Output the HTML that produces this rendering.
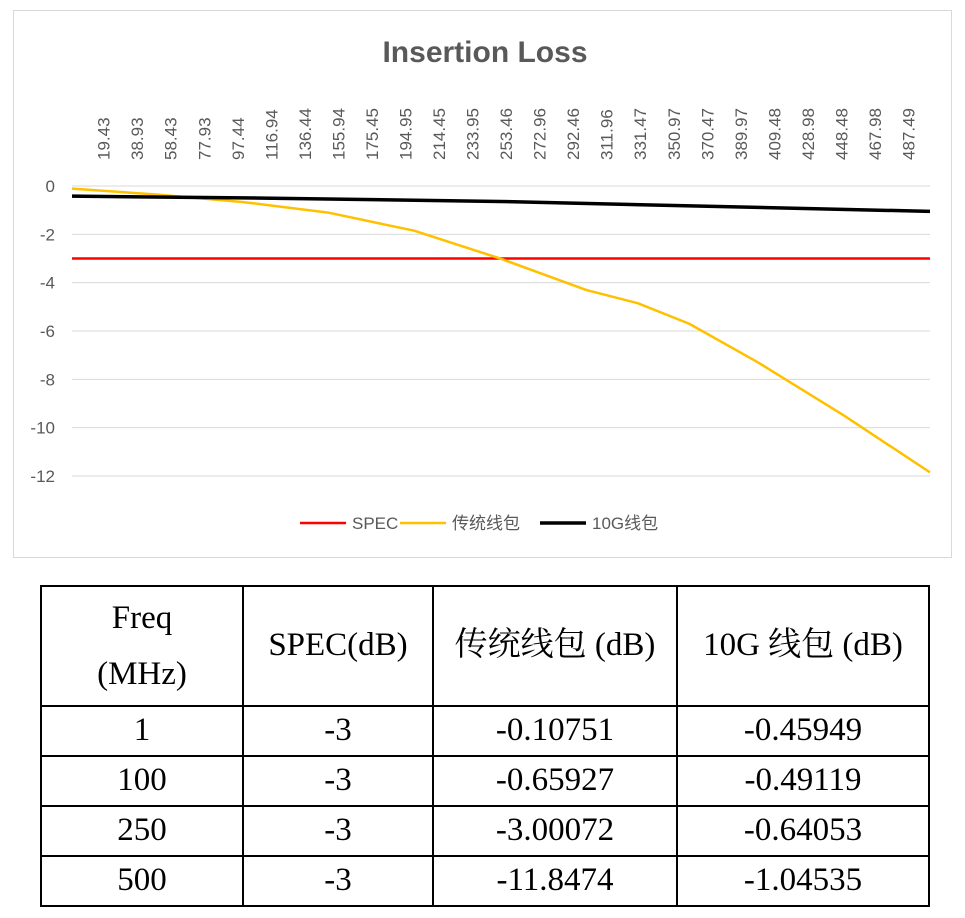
<!DOCTYPE html>
<html><head><meta charset="utf-8"><style>
body{margin:0;background:#fff;width:965px;height:918px;overflow:hidden;position:relative;font-family:"Liberation Sans","Noto Sans CJK SC",sans-serif}
#chart{position:absolute;left:13px;top:10px;width:939px;height:548px;border:1px solid #d9d9d9;box-sizing:border-box}
table{position:absolute;left:40px;top:585px;border-collapse:collapse;font-family:"Liberation Serif","Noto Serif CJK SC",serif;font-size:33px;color:#000}
td{border:2px solid #000;text-align:center;padding:0;line-height:1.2}
</style></head><body>
<div id="chart"></div>
<svg id="svg" width="965" height="570" style="position:absolute;left:0;top:0"></svg>
<table>
<tr style="height:120px"><td style="width:200px;line-height:56px">Freq<br>(MHz)</td><td style="width:188px">SPEC(dB)</td><td style="width:242px">传统线包 (dB)</td><td style="width:250px">10G 线包 (dB)</td></tr>
<tr style="height:50px"><td>1</td><td>-3</td><td>-0.10751</td><td>-0.45949</td></tr>
<tr style="height:50px"><td>100</td><td>-3</td><td>-0.65927</td><td>-0.49119</td></tr>
<tr style="height:50px"><td>250</td><td>-3</td><td>-3.00072</td><td>-0.64053</td></tr>
<tr style="height:50px"><td>500</td><td>-3</td><td>-11.8474</td><td>-1.04535</td></tr>
</table>
<script>
const tickLabels=["19.43","38.93","58.43","77.93","97.44","116.94","136.44","155.94","175.45","194.95","214.45","233.95","253.46","272.96","292.46","311.96","331.47","350.97","370.47","389.97","409.48","428.98","448.48","467.98","487.49"];
const yTicks=[0,-2,-4,-6,-8,-10,-12];
const tradFreq=[1,50,100,150,200,250,300,330,360,400,450,500];
const tradVals=[-0.11,-0.35,-0.66,-1.1,-1.85,-3.0,-4.3,-4.85,-5.7,-7.3,-9.5,-11.85];
const tenGFreq=[1,100,250,500];
const tenGVals=[-0.42,-0.49,-0.64,-1.05];
const specFreq=[1,500];
const specVals=[-3,-3];
const NS="http://www.w3.org/2000/svg",svg=document.getElementById('svg');
const X0=72,X1=930,Y0=186,Y1=476;
const xs=f=>X0+(f-1)/(500-1)*(X1-X0);
const ys=v=>Y0+(0-v)/12*(Y1-Y0);
function mk(t,a,txt){const e=document.createElementNS(NS,t);for(const k in a)e.setAttribute(k,a[k]);if(txt!==undefined)e.textContent=txt;svg.appendChild(e);return e;}
let t=mk('text',{x:485,y:62,'text-anchor':'middle','font-size':30,'font-weight':'bold',fill:'#595959'},'Insertion Loss');


yTicks.forEach(v=>{const g=mk('line',{x1:X0,x2:X1,y1:ys(v),y2:ys(v),stroke:'#d9d9d9','stroke-width':1});


const l=mk('text',{x:55,y:ys(v)+6,'text-anchor':'end','font-size':17,fill:'#595959'},String(v));

});
tickLabels.forEach(s=>{const x=xs(parseFloat(s))+6;const l=mk('text',{x:0,y:0,transform:`translate(${x},160) rotate(-90)`,'font-size':17,fill:'#595959'},s);

});
function line(fx,vs,col,w,name){const p=mk('polyline',{points:fx.map((f,i)=>xs(f)+','+ys(vs[i])).join(' '),fill:'none',stroke:col,'stroke-width':w,'stroke-linejoin':'round'});

}
line(specFreq,specVals,'#ff0000',2.5,'spec-line');
line(tradFreq,tradVals,'#ffc000',2.5,'traditional-line');
line(tenGFreq,tenGVals,'#000000',3.5,'10g-line');
const leg=[["#ff0000",2.5,"SPEC",300,46],["#ffc000",2.5,"传统线包",400,46],["#000",3.5,"10G线包",540,46]];
leg.forEach(([c,w,s,x,len])=>{const l=mk('line',{x1:x,x2:x+len,y1:523,y2:523,stroke:c,'stroke-width':w});


const tx=mk('text',{x:x+52,y:529,'font-size':17,fill:'#595959'},s);

});
</script>
</body></html>
